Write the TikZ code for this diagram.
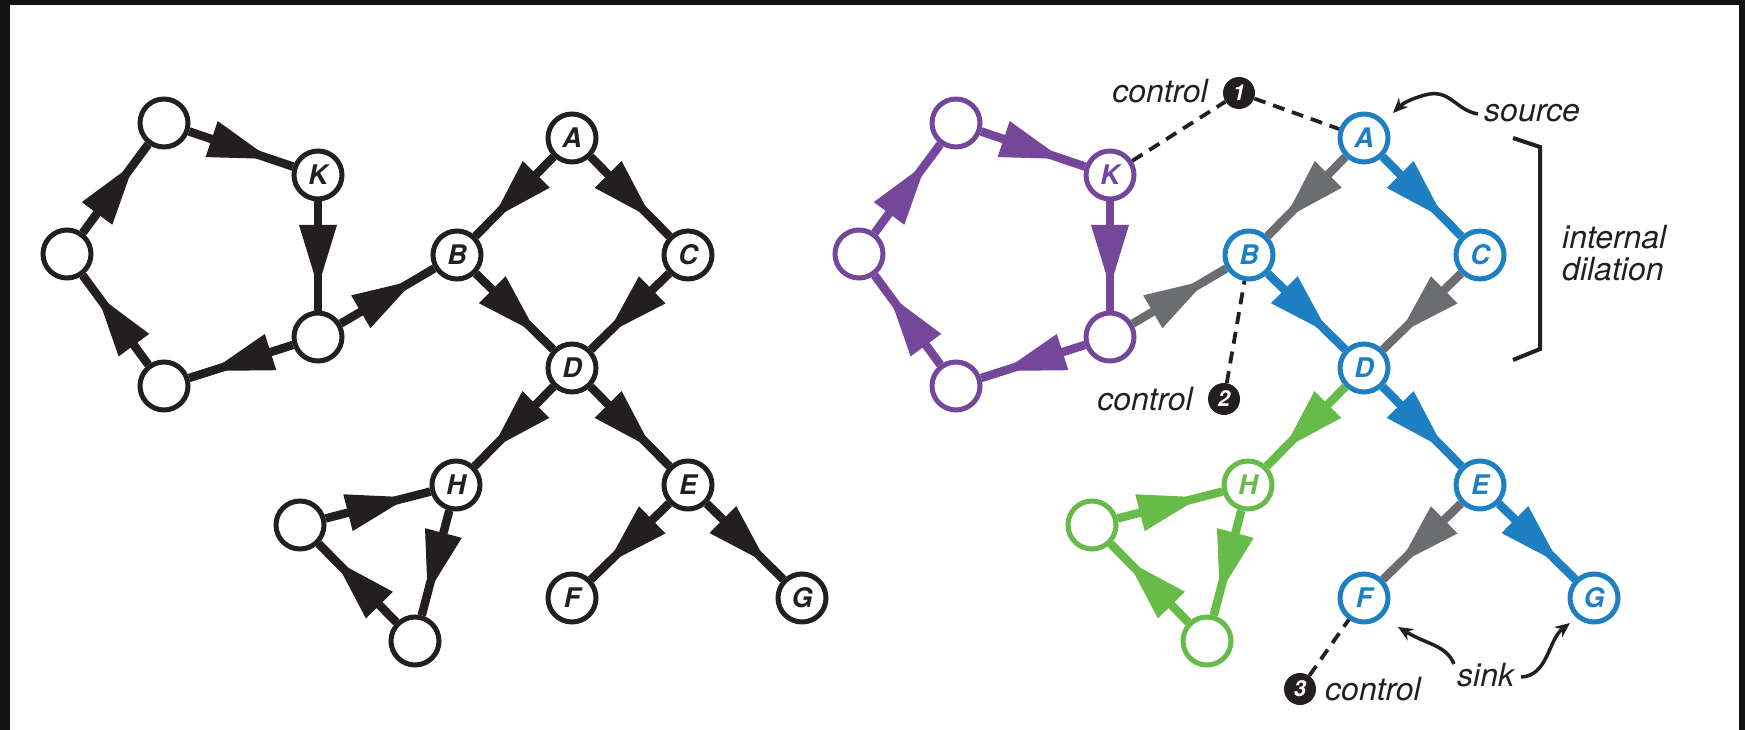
\documentclass[tikz,border=0pt]{standalone}
\usepackage{fontspec}
\setmainfont{TeX Gyre Heros}
\usetikzlibrary{decorations.markings,arrows.meta}
\definecolor{ink}{RGB}{35,31,32}
\definecolor{frame}{RGB}{18,18,18}
\definecolor{cpurple}{RGB}{116,71,155}
\definecolor{cblue}{RGB}{30,127,195}
\definecolor{cgreen}{RGB}{103,187,72}
\definecolor{cgray}{RGB}{108,109,112}
\begin{document}
\begin{tikzpicture}[x=1pt,y=-1pt,
  nd/.style={circle, draw=#1, fill=white, line width=5pt, minimum size=48pt, inner sep=0pt, text=#1,
    font=\fontsize{27}{27}\selectfont\bfseries\itshape},
  nd/.default=ink,
  ar/.style={line width=8.5pt, color=#1, postaction={decorate},
    decoration={markings, mark=at position 0.5 with {\fill[#1] (-31pt,-19pt) -- (31pt,0pt) -- (-31pt,19pt) -- cycle;}}},
  ar/.default=ink,
  nb/.style={circle, fill=ink, minimum size=32pt, inner sep=0pt, text=white,
    font=\fontsize{22}{22}\selectfont\bfseries\itshape},
  lab/.style={inner sep=0pt, text=ink, font=\fontsize{32}{32}\selectfont\itshape},
  dsh/.style={ink, line width=3.8pt, dash pattern=on 12pt off 8pt},
  note/.style={ink, line width=3.5pt, -{Stealth[length=15pt,width=13pt]}},
  brk/.style={ink, line width=4pt}
]
% frame
\fill[frame] (0,0) rectangle (1745,730);
\fill[white] (10,5) rectangle (1739,730);
\useasboundingbox (0,0) rectangle (1745,730);

% ---------- left graph ----------
\node[nd] (lTL) at (164,123) {};
\node[nd] (lK)  at (318,175) {K};
\node[nd] (lL)  at (67,254) {};
\node[nd] (lBL) at (164,386) {};
\node[nd] (lR)  at (318,337) {};
\node[nd] (lA)  at (572,138) {A};
\node[nd] (lB)  at (457,255) {B};
\node[nd] (lC)  at (688,255) {C};
\node[nd] (lD)  at (572,368) {D};
\node[nd] (lH)  at (456,485) {H};
\node[nd] (lE)  at (688,485) {E};
\node[nd] (lF)  at (572,598) {F};
\node[nd] (lG)  at (802,598) {G};
\node[nd] (lT1) at (300,525) {};
\node[nd] (lT2) at (415,641) {};

\draw[ar] (lTL) -- (lK);
\draw[ar] (lK) -- (lR);
\draw[ar] (lR) -- (lBL);
\draw[ar] (lBL) -- (lL);
\draw[ar] (lL) -- (lTL);
\draw[ar] (lR) -- (lB);
\draw[ar] (lA) -- (lB);
\draw[ar] (lA) -- (lC);
\draw[ar] (lB) -- (lD);
\draw[ar] (lC) -- (lD);
\draw[ar] (lD) -- (lH);
\draw[ar] (lD) -- (lE);
\draw[ar] (lE) -- (lF);
\draw[ar] (lE) -- (lG);
\draw[ar] (lT1) -- (lH);
\draw[ar] (lH) -- (lT2);
\draw[ar] (lT2) -- (lT1);

% ---------- right graph ----------
\node[nd=cpurple] (rTL) at (956,123) {};
\node[nd=cpurple] (rK)  at (1110,175) {K};
\node[nd=cpurple] (rL)  at (859,254) {};
\node[nd=cpurple] (rBL) at (956,386) {};
\node[nd=cpurple] (rR)  at (1110,337) {};
\node[nd=cblue] (rA)  at (1364,138) {A};
\node[nd=cblue] (rB)  at (1249,255) {B};
\node[nd=cblue] (rC)  at (1480,255) {C};
\node[nd=cblue] (rD)  at (1364,368) {D};
\node[nd=cgreen] (rH)  at (1248,485) {H};
\node[nd=cblue] (rE)  at (1480,485) {E};
\node[nd=cblue] (rF)  at (1364,598) {F};
\node[nd=cblue] (rG)  at (1594,598) {G};
\node[nd=cgreen] (rT1) at (1092,525) {};
\node[nd=cgreen] (rT2) at (1207,641) {};

\draw[ar=cpurple] (rTL) -- (rK);
\draw[ar=cpurple] (rK) -- (rR);
\draw[ar=cpurple] (rR) -- (rBL);
\draw[ar=cpurple] (rBL) -- (rL);
\draw[ar=cpurple] (rL) -- (rTL);
\draw[ar=cgray] (rR) -- (rB);
\draw[ar=cgray] (rA) -- (rB);
\draw[ar=cblue] (rA) -- (rC);
\draw[ar=cblue] (rB) -- (rD);
\draw[ar=cgray] (rC) -- (rD);
\draw[ar=cgreen] (rD) -- (rH);
\draw[ar=cblue] (rD) -- (rE);
\draw[ar=cgray] (rE) -- (rF);
\draw[ar=cblue] (rE) -- (rG);
\draw[ar=cgreen] (rT1) -- (rH);
\draw[ar=cgreen] (rH) -- (rT2);
\draw[ar=cgreen] (rT2) -- (rT1);

% ---------- annotations ----------
\node[nb] (c1) at (1239,93) {1};
\node[lab, anchor=base east] (t1) at (1208,103) {control};
\draw[dsh] (rK) -- (c1);
\draw[dsh] (c1) -- (rA);

\node[nb] (c2) at (1224,399) {2};
\node[lab, anchor=base east] (t2) at (1193,410) {control};
\draw[dsh] (c2) -- (rB);

\node[nb] (c3) at (1300,689) {3};
\node[lab, anchor=base west] (t3) at (1325,700) {control};
\draw[dsh] (c3) -- (rF);

\node[lab, anchor=base west] (src) at (1484,122) {source};
\coordinate (srcTail) at (1478,114);
\coordinate (srcTip) at (1393,113);
\draw[note] (srcTail) .. controls (1455,110) and (1450,88) .. (1425,95) .. controls (1410,99) and (1402,104) .. (srcTip);

\node[lab, anchor=base west] (snk) at (1457,686) {sink};
\coordinate (skTailA) at (1454,664);
\coordinate (skTipA) at (1398,627);
\coordinate (skTailB) at (1521,677);
\coordinate (skTipB) at (1570,623);
\draw[note] (skTailA) .. controls (1446,645) and (1428,645) .. (skTipA);
\draw[note] (skTailB) .. controls (1548,676) and (1548,640) .. (skTipB);

\draw[brk] (1513,138) -- (1540,147) -- (1540,349) -- (1513,360);
\node[lab, anchor=base west, align=left] (intd) at (1562,280) {internal\\dilation};
\end{tikzpicture}
\end{document}
